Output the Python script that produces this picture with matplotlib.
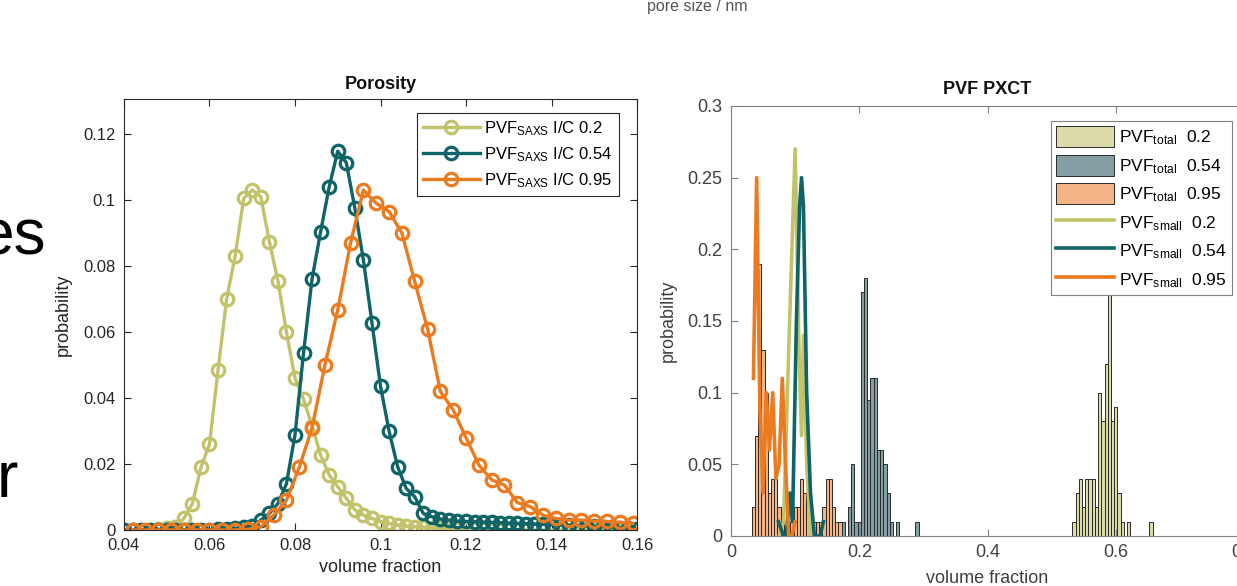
import numpy as np
import matplotlib
matplotlib.use("Agg")
import matplotlib.pyplot as plt

plt.rcParams["font.family"] = ["Liberation Sans", "DejaVu Sans"]
plt.rcParams["mathtext.fontset"] = "custom"
plt.rcParams["mathtext.rm"] = "Liberation Sans"
plt.rcParams["mathtext.it"] = "Liberation Sans:italic"
plt.rcParams["mathtext.bf"] = "Liberation Sans:bold"

OLIVE = "#c2c26a"
TEAL = "#0f6467"
ORANGE = "#ec7a1e"
OLIVE_FILL = "#dcdcab"
TEAL_FILL = "#849fa3"
ORANGE_FILL = "#f4b487"

# ---- left panel: SAXS pore volume fraction distributions ----
ic_labels = ["0.2", "0.54", "0.95"]
vf_fine = np.round(np.arange(0.040, 0.1601, 0.002), 3)     # I/C 0.2 and 0.54
vf_coarse = np.round(np.arange(0.042, 0.1591, 0.003), 3)   # I/C 0.95

p_saxs_02 = [0, 0, 0, 0, 0.0003, 0.0005, 0.001, 0.0035, 0.008, 0.019,
             0.026, 0.0485, 0.070, 0.083, 0.1005, 0.103, 0.101, 0.0874, 0.0755, 0.060,
             0.046, 0.0396, 0.0315, 0.0227, 0.0167, 0.0131, 0.0096, 0.0061, 0.0045, 0.0035,
             0.0025, 0.002, 0.0015, 0.0012, 0.001, 0.0008, 0.0006, 0.0005, 0.0004, 0.0003,
             0.0003, 0.0002, 0.0002, 0.0001, 0.0001, 0.0001, 0, 0, 0, 0,
             0, 0, 0, 0, 0, 0, 0, 0, 0, 0, 0]
p_saxs_054 = [0, 0, 0, 0, 0, 0, 0, 0, 0, 0,
              0.0001, 0.0002, 0.0003, 0.0005, 0.0008, 0.0012, 0.003, 0.005, 0.008, 0.014,
              0.0288, 0.0537, 0.0762, 0.0904, 0.104, 0.1148, 0.1113, 0.0975, 0.0818, 0.0628,
              0.0436, 0.030, 0.0192, 0.0126, 0.0101, 0.005, 0.004, 0.0033, 0.003, 0.0027,
              0.0026, 0.0025, 0.0024, 0.0023, 0.0022, 0.0021, 0.002, 0.0019, 0.0018, 0.0017,
              0.0016, 0.0015, 0.0014, 0.0013, 0.0012, 0.0011, 0.001, 0.0009, 0.0007, 0.0005, 0.0003]
p_saxs_095 = [0, 0, 0, 0, 0, 0, 0, 0, 0, 0.0002,
              0.001, 0.0045, 0.009, 0.019, 0.031, 0.050, 0.0667, 0.087, 0.103, 0.099,
              0.0965, 0.090, 0.0753, 0.061, 0.042, 0.0364, 0.028, 0.0197, 0.0152, 0.0136,
              0.0083, 0.0071, 0.0045, 0.0035, 0.003, 0.003, 0.0027, 0.0026, 0.0023, 0.002]

# ---- right panel: PXCT histograms (total) and small-pore curves ----
bins_02 = np.round(np.arange(0.535, 0.6551, 0.005), 3)
total_02 = [0.01, 0.03, 0.04, 0.02, 0.04, 0.04, 0.04, 0.02, 0.10, 0.08,
            0.12, 0.19, 0.08, 0.09, 0.03, 0.01, 0, 0.01, 0, 0,
            0, 0, 0, 0, 0.01]
bins_054 = np.round(np.arange(0.170, 0.2901, 0.005), 3)
total_054 = [0.01, 0.01, 0, 0.02, 0.05, 0.01, 0.01, 0.17, 0.18, 0.095,
             0.11, 0.11, 0.06, 0.06, 0.05, 0.03, 0.01, 0, 0.01, 0,
             0, 0, 0, 0, 0.01]
bins_095 = np.round(np.arange(0.035, 0.1701, 0.005), 3)
total_095 = [0.02, 0.07, 0.19, 0.13, 0.10, 0.03, 0.04, 0.04, 0.02, 0.01,
             0, 0, 0.01, 0.02, 0.02, 0.04, 0.03, 0.02, 0.01, 0.01,
             0.01, 0.01, 0.02, 0.04, 0.04, 0.02, 0.01, 0.01]

small_02_x = [0.075, 0.082, 0.090, 0.100, 0.106, 0.110, 0.113, 0.118, 0.124]
small_02_y = [0.0, 0.01, 0.13, 0.27, 0.13, 0.07, 0.14, 0.05, 0.0]
small_054_x = [0.074, 0.082, 0.086, 0.092, 0.096, 0.102, 0.107, 0.110, 0.113,
               0.118, 0.124, 0.130, 0.134, 0.139, 0.144]
small_054_y = [0.01, 0.0, 0.0, 0.03, 0.01, 0.15, 0.23, 0.25, 0.23,
               0.10, 0.03, 0.0, 0.0, 0.0, 0.01]
small_095_x = [0.035, 0.040, 0.045, 0.050, 0.055, 0.060, 0.065, 0.070,
               0.075, 0.080, 0.085, 0.090, 0.095, 0.100]
small_095_y = [0.11, 0.25, 0.09, 0.03, 0.10, 0.06, 0.10, 0.04,
               0.05, 0.11, 0.05, 0.0, 0.0, 0.01]

W, H = 1237, 586
fig = plt.figure(figsize=(W / 100, H / 100), dpi=100, facecolor="white")


def px_axes(left, top, right, bottom):
    return fig.add_axes([left / W, 1 - bottom / H, (right - left) / W, (bottom - top) / H])


def matlab_style(ax, spine_col, lab_col, size):
    for s in ax.spines.values():
        s.set_color(spine_col)
        s.set_linewidth(0.8)
    ax.tick_params(direction="in", top=True, right=True, length=5, width=0.8,
                   color=spine_col, labelcolor=lab_col, labelsize=size, pad=6)


# left
axL = px_axes(124, 99, 637, 530)
series = [(vf_fine, p_saxs_02, OLIVE), (vf_fine, p_saxs_054, TEAL), (vf_coarse, p_saxs_095, ORANGE)]
for (x, y, c), lab in zip(series, ic_labels):
    axL.plot(x, y, color=c, lw=2.4, marker="o", ms=9, mfc="none", mew=2.3,
             label=r"PVF$_{\mathrm{SAXS}}$ I/C " + lab)
axL.set_xlim(0.04, 0.16)
axL.set_ylim(0, 0.1306)
axL.set_xticks([0.04, 0.06, 0.08, 0.1, 0.12, 0.14, 0.16])
axL.set_xticklabels(["0.04", "0.06", "0.08", "0.1", "0.12", "0.14", "0.16"])
axL.set_yticks([0, 0.02, 0.04, 0.06, 0.08, 0.1, 0.12])
axL.set_yticklabels(["0", "0.02", "0.04", "0.06", "0.08", "0.1", "0.12"])
matlab_style(axL, "#262626", "#262626", 12)
axL.set_title("Porosity", fontsize=13, fontweight="bold", color="#111", pad=7)
axL.set_xlabel("volume fraction", fontsize=13, color="#262626", labelpad=4)
axL.set_ylabel("probability", fontsize=13, color="#262626", labelpad=8)
legL = axL.legend(loc="upper left", bbox_to_anchor=(417 / W, 1 - 113 / H),
                  bbox_transform=fig.transFigure, borderaxespad=0, fontsize=12,
                  handlelength=3.4, numpoints=1, labelspacing=0.45, fancybox=False,
                  framealpha=1, edgecolor="#262626", borderpad=0.35, handletextpad=0.3)
legL.get_frame().set_linewidth(0.8)

# right
axR = px_axes(731, 106, 1244, 536)
h_bars = []
for bx, by, fc, lab in [(bins_02, total_02, OLIVE_FILL, "0.2"),
                        (bins_054, total_054, TEAL_FILL, "0.54"),
                        (bins_095, total_095, ORANGE_FILL, "0.95")]:
    h_bars.append(axR.bar(bx, by, width=0.005, color=fc, edgecolor="#2a2a2a", lw=0.7,
                          label=r"PVF$_{\mathrm{total}}$  " + lab))
h_lines = []
for lx, ly, c, lab in [(small_02_x, small_02_y, OLIVE, "0.2"),
                       (small_054_x, small_054_y, TEAL, "0.54"),
                       (small_095_x, small_095_y, ORANGE, "0.95")]:
    h_lines += axR.plot(lx, ly, color=c, lw=2.6, label=r"PVF$_{\mathrm{small}}$  " + lab)
axR.set_xlim(0, 0.8)
axR.set_ylim(0, 0.3)
axR.set_xticks([0, 0.2, 0.4, 0.6, 0.8])
axR.set_xticklabels(["0", "0.2", "0.4", "0.6", "0.8"])
axR.set_yticks([0, 0.05, 0.1, 0.15, 0.2, 0.25, 0.3])
axR.set_yticklabels(["0", "0.05", "0.1", "0.15", "0.2", "0.25", "0.3"])
matlab_style(axR, "#808080", "#404040", 13)
axR.set_title("PVF PXCT", fontsize=13, fontweight="bold", color="#111", pad=9)
axR.set_xlabel("volume fraction", fontsize=13, color="#404040", labelpad=6)
axR.set_ylabel("probability", fontsize=13, color="#404040", labelpad=8)
handles = h_bars + h_lines
legR = axR.legend(handles, [h.get_label() for h in handles],
                  loc="upper left", bbox_to_anchor=(1051 / W, 1 - 121 / H),
                  bbox_transform=fig.transFigure, borderaxespad=0, fontsize=12.5,
                  handlelength=3.3, handleheight=1.5, labelspacing=0.42, fancybox=False,
                  framealpha=1, edgecolor="#808080", borderpad=0.3, handletextpad=0.3)
legR.get_frame().set_linewidth(0.8)

# slide fragments around the figure
fig.text(46 / W, 1 - 255 / H, "es", fontsize=46, ha="right", va="baseline", color="black")
fig.text(18 / W, 1 - 497 / H, "r", fontsize=46, ha="right", va="baseline", color="black")
fig.text(697 / W, 1 - 7 / H, "pore size / nm", fontsize=11.5, ha="center", va="center",
         color="#555555")

fig.savefig("out.png", dpi=100)
